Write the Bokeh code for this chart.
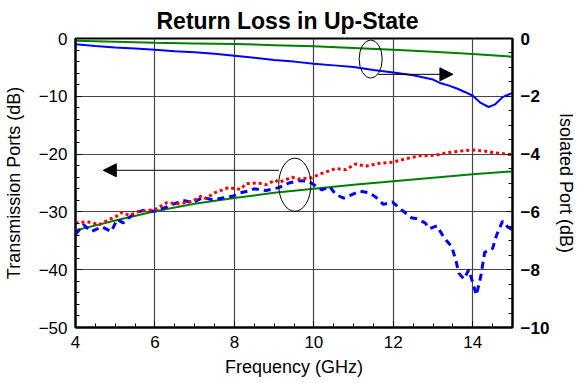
from bokeh.plotting import figure
from bokeh.models import Range1d, LinearAxis, FixedTicker, Arrow, NormalHead
from bokeh.embed import file_html
from bokeh.resources import INLINE

# ---- data ----
freq_iso_green = [4, 5, 6, 7, 8, 9, 10, 11, 12, 13, 14, 15]
iso_green = [-0.08, -0.11, -0.15, -0.17, -0.19, -0.23, -0.27, -0.33, -0.39, -0.46, -0.54, -0.63]

freq_iso_blue = [4, 4.5, 5, 5.5, 6, 6.5, 7, 7.5, 8, 8.5, 9, 9.5, 10, 10.5, 11, 11.5,
                 12, 12.5, 13, 13.2, 13.4, 13.6, 13.8, 14, 14.2, 14.4, 14.55, 14.75, 15]
iso_blue = [-0.2, -0.26, -0.31, -0.35, -0.39, -0.44, -0.48, -0.53, -0.6, -0.67, -0.74, -0.80,
            -0.87, -0.93, -0.99, -1.09, -1.18, -1.27, -1.42, -1.55, -1.63, -1.73, -1.85,
            -1.98, -2.23, -2.37, -2.29, -2.03, -1.88]

freq_tr_green = [4, 5, 6, 7, 8, 9, 10, 11, 12, 13, 14, 15]
tr_green = [-33.2, -31.5, -29.9, -28.6, -27.6, -26.7, -26.0, -25.3, -24.7, -24.1, -23.5, -23.0]

freq_tr_red = [4.0, 4.3, 4.6, 4.85, 5.0, 5.17, 5.35, 5.6, 6.0, 6.3, 6.6, 6.93, 7.18, 7.28, 7.5,
               7.85, 8.15, 8.3, 8.6, 8.8, 9.03, 9.12, 9.45, 9.6, 9.96, 10.13, 10.55, 10.8,
               11.05, 11.3, 11.64, 11.98, 12.32, 12.66, 13.07, 13.32, 13.66, 14.0, 14.33,
               14.58, 15.0]
tr_red = [-31.9, -31.7, -32.2, -31.3, -30.9, -30.1, -30.6, -29.9, -29.6, -28.4, -28.6, -28.2,
          -27.2, -27.7, -26.7, -25.8, -26.1, -25.1, -25.0, -25.3, -24.5, -24.9, -24.0, -24.3,
          -24.1, -23.5, -22.5, -22.7, -21.7, -22.1, -21.6, -21.4, -20.8, -20.3, -20.2, -19.8,
          -19.5, -19.3, -19.5, -19.8, -20.1]

freq_tr_blue = [4.0, 4.2, 4.4, 4.67, 4.9, 5.05, 5.2, 5.5, 5.75, 6.0, 6.35, 6.7, 6.95, 7.2, 7.45,
                7.7, 7.95, 8.15, 8.35, 8.5, 8.8, 9.12, 9.37, 9.62, 9.87, 10.0, 10.2, 10.4,
                10.55, 10.75, 10.9, 11.15, 11.4, 11.55, 11.75, 11.98, 12.2, 12.45, 12.6, 12.8,
                12.92, 13.1, 13.28, 13.47, 13.57, 13.65, 13.78, 13.9, 13.98, 14.09, 14.2,
                14.3, 14.5, 14.6, 14.75, 14.88, 15.0]
tr_blue = [-33.9, -32.2, -33.4, -32.6, -33.4, -31.3, -31.9, -30.1, -29.7, -29.9, -29.0, -28.0,
           -28.4, -27.5, -27.9, -27.6, -27.3, -26.7, -26.4, -26.0, -26.3, -25.8, -25.0, -24.6,
           -24.7, -25.3, -26.2, -25.6, -27.0, -27.6, -27.2, -26.4, -26.7, -27.4, -28.7, -28.3,
           -29.6, -31.0, -31.2, -31.9, -32.9, -32.4, -34.5, -36.0, -38.3, -40.6, -41.6, -40.0,
           -41.8, -44.4, -41.2, -37.0, -36.3, -34.0, -31.6, -32.6, -33.1]

x_ticks = [4, 6, 8, 10, 12, 14]
left_ticks = [0, -10, -20, -30, -40, -50]
right_ticks = [0, -2, -4, -6, -8, -10]

FONT = "Liberation Sans"

p = figure(frame_width=437, frame_height=289, output_backend="svg", toolbar_location=None,
           x_range=Range1d(4, 15), y_range=Range1d(-50, 0),
           min_border_left=69, min_border_right=61, min_border_top=31, min_border_bottom=47,
           title="Return Loss in Up-State")
p.extra_y_ranges = {"iso": Range1d(-10, 0)}

p.title.text_font = FONT
p.title.text_font_size = "23px"
p.title.text_font_style = "bold"
p.title.text_color = "black"
p.title.align = "left"
p.title.offset = 81
p.title.standoff = 10

p.outline_line_color = "black"
p.outline_line_width = 2
p.background_fill_color = "white"
p.border_fill_color = "white"

# axes
xa = p.xaxis[0]
xa.ticker = FixedTicker(ticks=x_ticks, minor_ticks=[4 + 0.5 * i for i in range(23)])
ya = p.yaxis[0]
ya.ticker = FixedTicker(ticks=left_ticks, minor_ticks=[-2 * i for i in range(26)])
ra = LinearAxis(y_range_name="iso",
                ticker=FixedTicker(ticks=right_ticks, minor_ticks=[-0.5 * i for i in range(21)]))
p.add_layout(ra, "right")

xa.axis_label = "Frequency (GHz)"
ya.axis_label = "Transmission Ports (dB)"
ra.axis_label = "Isolated Port (dB)"

for ax in (xa, ya, ra):
    ax.axis_line_width = 2
    ax.axis_line_color = "black"
    ax.major_tick_in = 6
    ax.major_tick_out = 0
    ax.minor_tick_in = 4
    ax.minor_tick_out = 0
    ax.major_tick_line_color = "black"
    ax.minor_tick_line_color = "black"
    ax.major_label_text_font = FONT
    ax.major_label_text_font_size = "17px"
    ax.major_label_text_color = "black"
    ax.axis_label_text_font = FONT
    ax.axis_label_text_font_size = "18px"
    ax.axis_label_text_font_style = "normal"
    ax.axis_label_text_color = "black"
    ax.major_label_standoff = 8
ra.major_label_text_font_style = "bold"
ya.axis_label_standoff = 12
ra.axis_label_standoff = 4
xa.axis_label_standoff = 6

p.xgrid.ticker = FixedTicker(ticks=[6, 8, 10, 12, 14])
p.ygrid.ticker = FixedTicker(ticks=[-10, -20, -30, -40])
p.xgrid.grid_line_color = "#444444"
p.ygrid.grid_line_color = "#444444"
p.xgrid.grid_line_width = 1.2
p.ygrid.grid_line_width = 1.2

# curves
p.line(freq_tr_green, tr_green, line_color="#008000", line_width=2)
p.line(freq_tr_blue, tr_blue, line_color="#0000FF", line_width=3, line_dash="7 5")
p.line(freq_tr_red, tr_red, line_color="#FF0000", line_width=3, line_dash="3 3")
p.line(freq_iso_green, iso_green, line_color="#008000", line_width=2, y_range_name="iso")
p.line(freq_iso_blue, iso_blue, line_color="#0000FF", line_width=2, y_range_name="iso")

# annotations
p.ellipse(x=[11.43], y=[-3.56], width=[0.58], height=[6.6],
          fill_color=None, line_color="black", line_width=1)
p.ellipse(x=[9.52], y=[-25.3], width=[0.81], height=[9.2],
          fill_color=None, line_color="black", line_width=1)
p.add_layout(Arrow(end=NormalHead(size=13, fill_color="black", line_color="black"),
                   x_start=11.62, y_start=-6.2, x_end=13.5, y_end=-6.2,
                   line_color="black", line_width=1))
p.add_layout(Arrow(end=NormalHead(size=13, fill_color="black", line_color="black"),
                   x_start=9.12, y_start=-22.8, x_end=4.7, y_end=-22.8,
                   line_color="black", line_width=1))

open("out.html", "w").write(file_html(p, INLINE))
